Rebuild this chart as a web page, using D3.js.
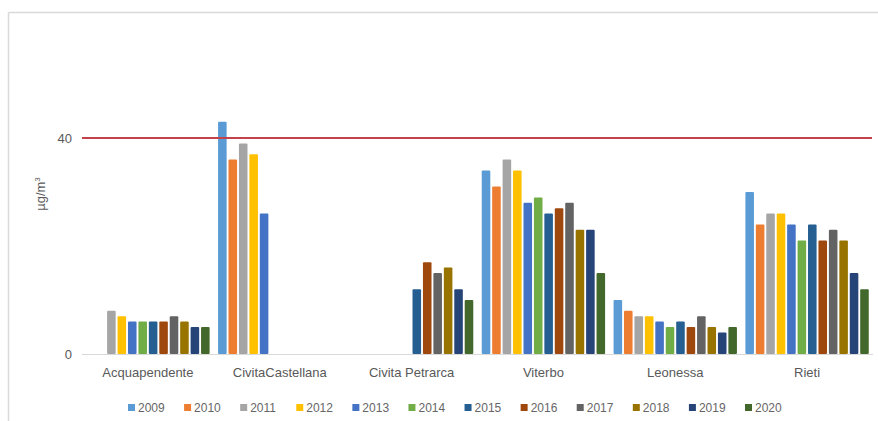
<!DOCTYPE html>
<html>
<head>
<meta charset="utf-8">
<script src="https://cdn.jsdelivr.net/npm/d3@7/dist/d3.min.js"></script>
<style>
  html, body { margin: 0; padding: 0; background: #fff; }
  svg { display: block; }
  text { font-family: "Liberation Sans", "DejaVu Sans", sans-serif; fill: #595959; }
</style>
</head>
<body>
<svg id="chart" width="878" height="421"></svg>
<script>
// Stations (categories)
const categories = ["Acquapendente", "CivitaCastellana", "Civita Petrarca", "Viterbo", "Leonessa", "Rieti"];

// Yearly mean concentrations per station (µg/m³); null = no measurement
const y2009 = [null, 43, null, 34, 10, 30];
const y2010 = [null, 36, null, 31, 8, 24];
const y2011 = [8, 39, null, 36, 7, 26];
const y2012 = [7, 37, null, 34, 7, 26];
const y2013 = [6, 26, null, 28, 6, 24];
const y2014 = [6, null, null, 29, 5, 21];
const y2015 = [6, null, 12, 26, 6, 24];
const y2016 = [6, null, 17, 27, 5, 21];
const y2017 = [7, null, 15, 28, 7, 23];
const y2018 = [6, null, 16, 23, 5, 21];
const y2019 = [5, null, 12, 23, 4, 15];
const y2020 = [5, null, 10, 15, 5, 12];

const years = ["2009", "2010", "2011", "2012", "2013", "2014", "2015", "2016", "2017", "2018", "2019", "2020"];
const seriesValues = [y2009, y2010, y2011, y2012, y2013, y2014, y2015, y2016, y2017, y2018, y2019, y2020];

// Tick labels and limit value
const yTicks = [0, 40];
const limitValue = 40;

const colors = ["#5B9BD5", "#ED7D31", "#A5A5A5", "#FFC000", "#4472C4", "#70AD47",
                "#255E91", "#9E480E", "#636363", "#997300", "#264478", "#43682B"];

const svg = d3.select("#chart");

// Chart frame (top and left edges)
svg.append("line").attr("x1", 8.5).attr("x2", 878).attr("y1", 12.5).attr("y2", 12.5)
  .attr("stroke", "#d9d9d9").attr("stroke-width", 1.5);
svg.append("line").attr("x1", 8.5).attr("x2", 8.5).attr("y1", 12.5).attr("y2", 421)
  .attr("stroke", "#d9d9d9").attr("stroke-width", 1.5);

const x0 = d3.scaleBand().domain(categories).range([82, 873]).paddingInner(0.05).paddingOuter(0.025);
const x1 = d3.scaleBand().domain(years).range([0, x0.bandwidth()]).paddingInner(0.18).paddingOuter(0.09);
const y = d3.scaleLinear().domain([0, 40]).range([354, 138]);

// Baseline
svg.append("line").attr("x1", 82).attr("x2", 873).attr("y1", y(0) + 0.5).attr("y2", y(0) + 0.5)
  .attr("stroke", "#d9d9d9").attr("stroke-width", 1);

// Y axis tick labels
const yAxis = d3.axisLeft(y).tickValues(yTicks).tickSize(0).tickPadding(0);
const gy = svg.append("g").attr("transform", "translate(72,0)").call(yAxis);
gy.select(".domain").remove();
gy.selectAll("text").attr("font-size", 13).style("fill", "#595959")
  .attr("font-family", "Liberation Sans, sans-serif");

// Y axis unit label
svg.append("text")
  .attr("transform", "translate(45,194) rotate(-90)")
  .attr("text-anchor", "middle")
  .attr("font-size", 13)
  .html('µg/m<tspan dy="-5" font-size="8">3</tspan>');

// Bars
const flat = [];
seriesValues.forEach((vals, si) => {
  vals.forEach((v, ci) => {
    if (v !== null) flat.push({ year: years[si], cat: categories[ci], value: v, color: colors[si] });
  });
});

svg.append("g").selectAll("rect").data(flat).join("rect")
  .attr("x", d => x0(d.cat) + x1(d.year))
  .attr("width", x1.bandwidth())
  .attr("y", d => y(d.value))
  .attr("height", d => y(0) - y(d.value))
  .attr("rx", 1)
  .attr("fill", d => d.color);

// Limit line
svg.append("line")
  .attr("x1", 82).attr("x2", 872)
  .attr("y1", y(limitValue)).attr("y2", y(limitValue))
  .attr("stroke", "#C4424A").attr("stroke-width", 2);

// Category labels
const xAxis = d3.axisBottom(x0).tickSize(0).tickPadding(0);
const gx = svg.append("g").attr("transform", `translate(0,${y(0) + 14})`).call(xAxis);
gx.select(".domain").remove();
gx.selectAll("text").attr("font-size", 13).style("fill", "#595959")
  .attr("font-family", "Liberation Sans, sans-serif");

// Legend
const legend = svg.append("g");
const legendX = d3.scalePoint().domain(years).range([128, 745]);
const items = legend.selectAll("g").data(years).join("g")
  .attr("transform", d => `translate(${legendX(d)},408)`);
items.append("rect").attr("x", 0).attr("y", -4).attr("width", 7).attr("height", 7)
  .attr("fill", (d, i) => colors[i]);
items.append("text").attr("x", 10).attr("y", 0).attr("dy", "0.35em")
  .attr("font-size", 12).style("fill", "#666").text(d => d);
</script>
</body>
</html>
